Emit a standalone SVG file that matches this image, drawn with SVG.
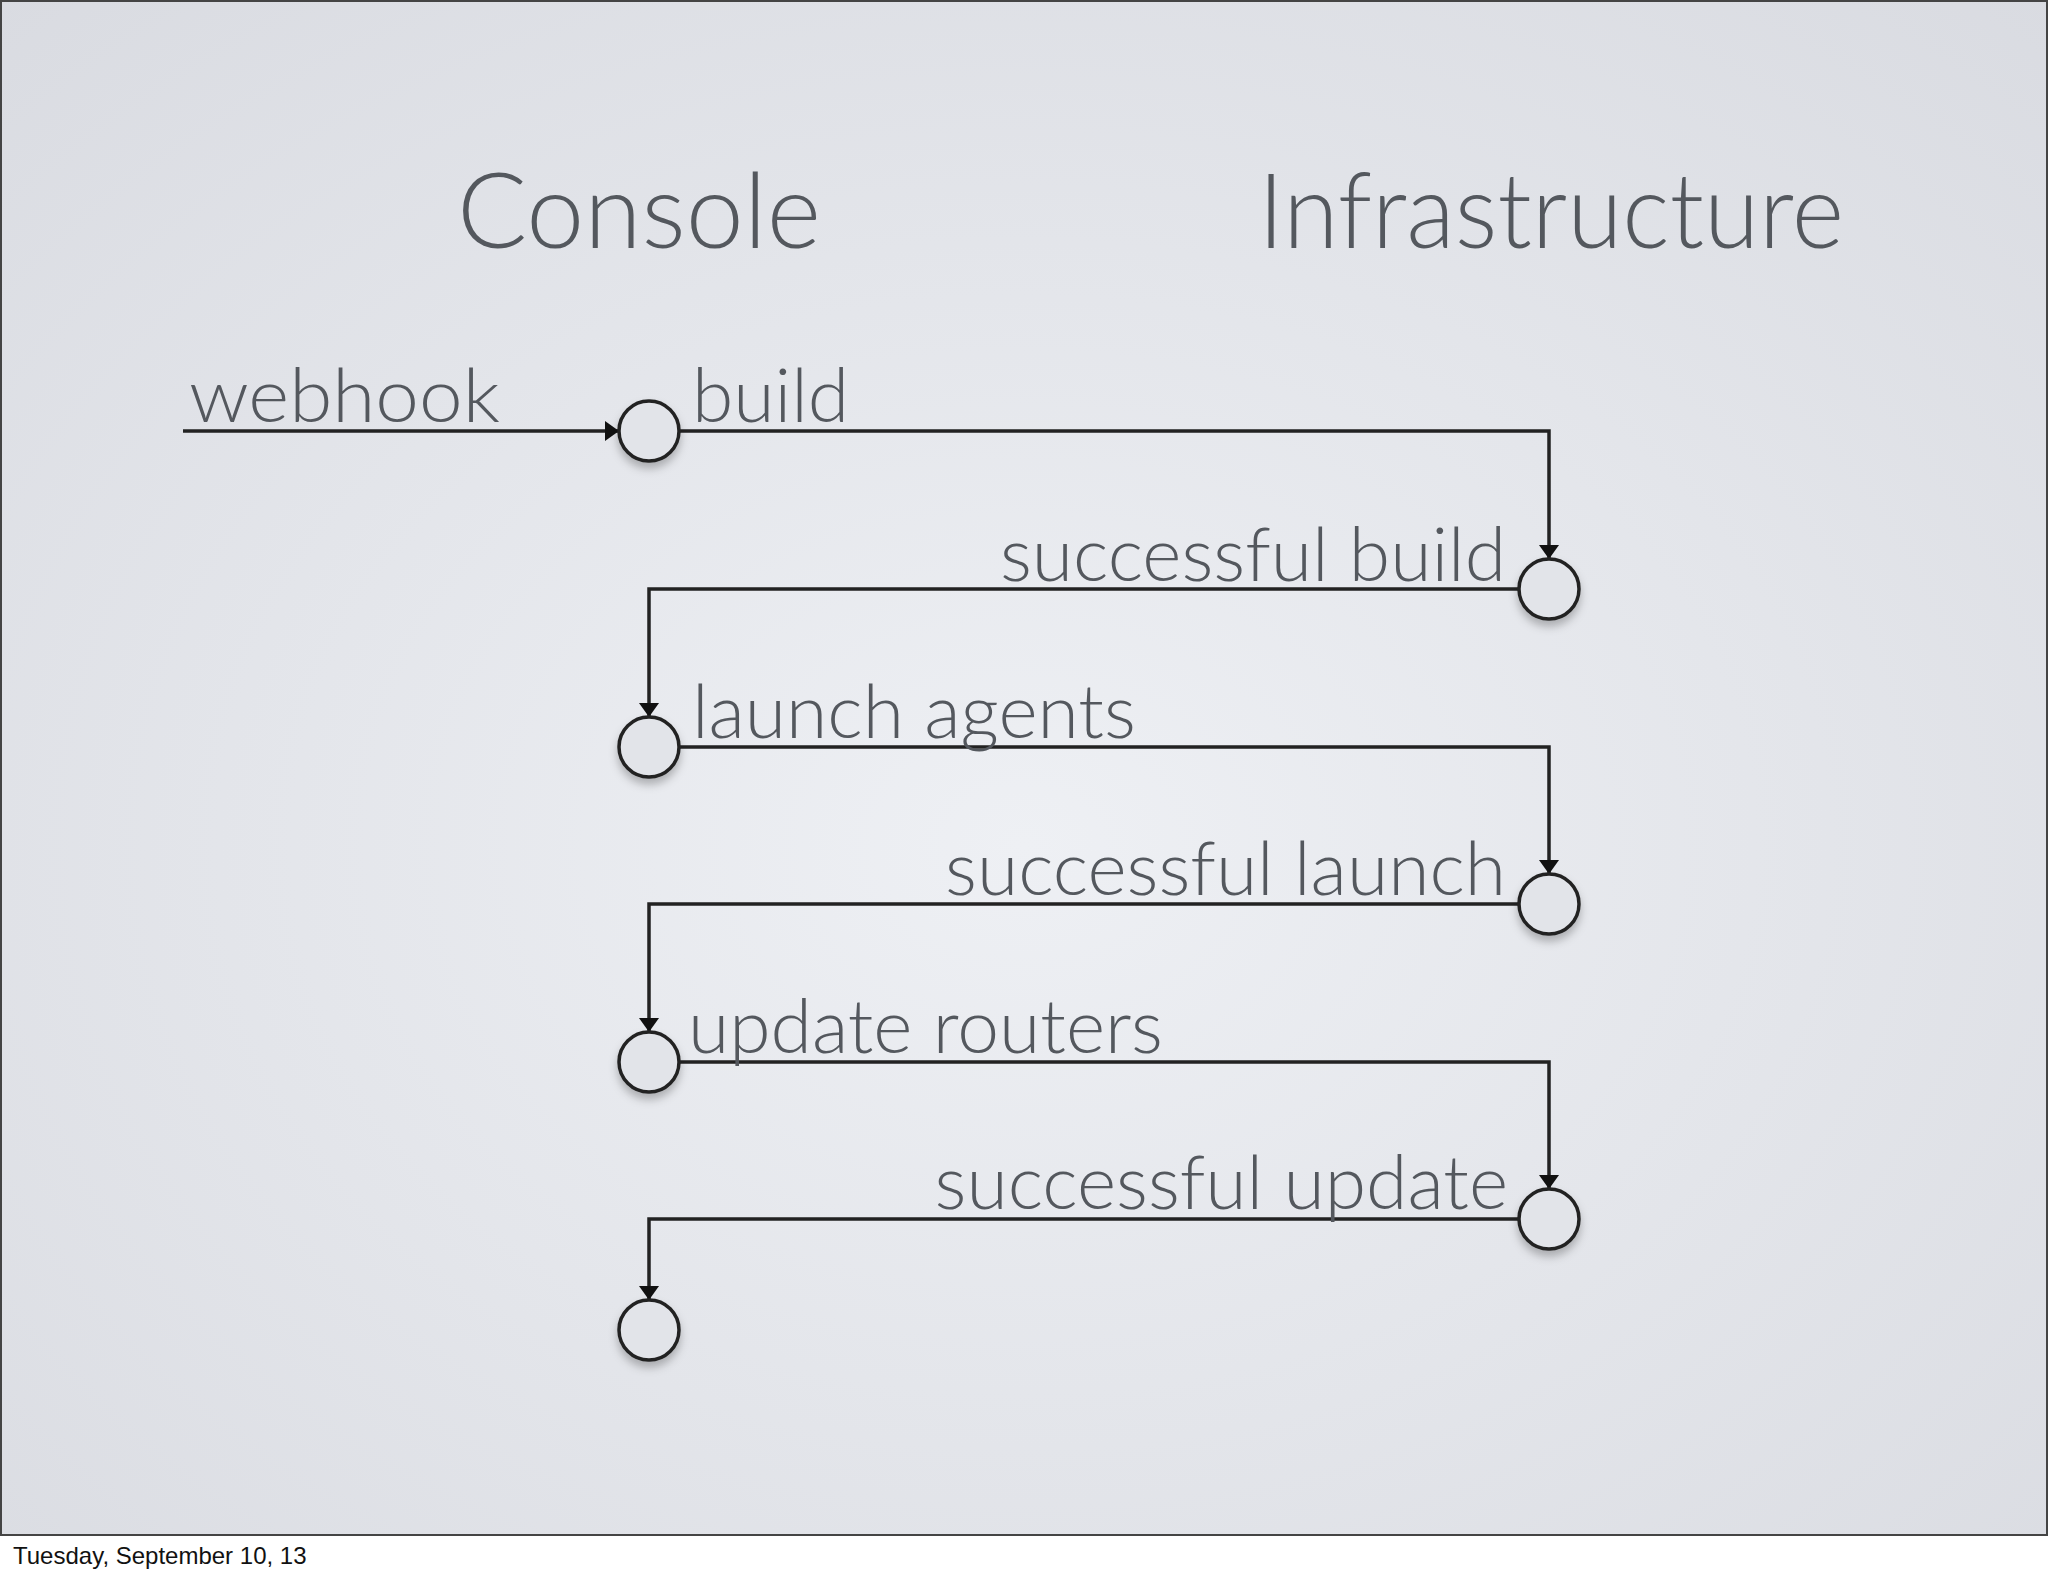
<svg xmlns="http://www.w3.org/2000/svg" width="2048" height="1576" viewBox="0 0 2048 1576">
<defs>
<radialGradient id="bg" cx="0.5" cy="0.55" r="0.75">
<stop offset="0" stop-color="#eef0f4"/><stop offset="1" stop-color="#d9dbe1"/>
</radialGradient>
<marker id="ah" markerWidth="14" markerHeight="20" refX="13" refY="10" orient="auto" markerUnits="userSpaceOnUse" viewBox="0 0 14 20">
<path d="M0,0 L14,10 L0,20 z" fill="#111"/>
</marker>
<filter id="sh" x="-50%" y="-50%" width="200%" height="200%"><feDropShadow dx="0" dy="6" stdDeviation="4" flood-color="#000" flood-opacity="0.25"/></filter>
</defs>
<style>
.t{font-family:Lato,"Open Sans","Liberation Sans",sans-serif;font-weight:300;fill:#54585e}
.h{font-size:104px}
.l{font-size:75px}
.c{fill:#e2e4e9;stroke:#222;stroke-width:3.5;filter:url(#sh)}
.e{fill:none;stroke:#222;stroke-width:3.5}
</style>
<rect x="0" y="0" width="2048" height="1576" fill="#fff"/>
<rect x="1" y="1" width="2046" height="1534" fill="url(#bg)" stroke="#444" stroke-width="2"/>
<text x="13" y="1564" font-family="Liberation Sans,Arial,sans-serif" font-size="24" fill="#111">Tuesday, September 10, 13</text>
<text class="t h" x="457" y="248">Console</text>
<text class="t h" x="1258" y="248" textLength="586" lengthAdjust="spacingAndGlyphs">Infrastructure</text>
<g id="connectors">
<path class="e" d="M183,431 H618" marker-end="url(#ah)"/>
<path class="e" d="M679,431 H1549 V558" marker-end="url(#ah)"/>
<path class="e" d="M1519,589 H649 V716" marker-end="url(#ah)"/>
<path class="e" d="M679,747 H1549 V873" marker-end="url(#ah)"/>
<path class="e" d="M1519,904 H649 V1031" marker-end="url(#ah)"/>
<path class="e" d="M679,1062 H1549 V1188" marker-end="url(#ah)"/>
<path class="e" d="M1519,1219 H649 V1299" marker-end="url(#ah)"/>
</g>
<g id="n1"><circle class="c" cx="649" cy="431" r="30"/></g>
<g id="n2"><circle class="c" cx="1549" cy="589" r="30"/></g>
<g id="n3"><circle class="c" cx="649" cy="747" r="30"/></g>
<g id="n4"><circle class="c" cx="1549" cy="904" r="30"/></g>
<g id="n5"><circle class="c" cx="649" cy="1062" r="30"/></g>
<g id="n6"><circle class="c" cx="1549" cy="1219" r="30"/></g>
<g id="n7"><circle class="c" cx="649" cy="1330" r="30"/></g>
<g id="labels">
<text class="t l" x="189" y="422" textLength="311" lengthAdjust="spacingAndGlyphs">webhook</text>
<text class="t l" x="692" y="422">build</text>
<text class="t l" x="1506" y="581" text-anchor="end">successful build</text>
<text class="t l" x="692" y="738">launch agents</text>
<text class="t l" x="1506" y="895" text-anchor="end">successful launch</text>
<text class="t l" x="688" y="1053">update routers</text>
<text class="t l" x="1508" y="1209" text-anchor="end">successful update</text>
</g>
</svg>
